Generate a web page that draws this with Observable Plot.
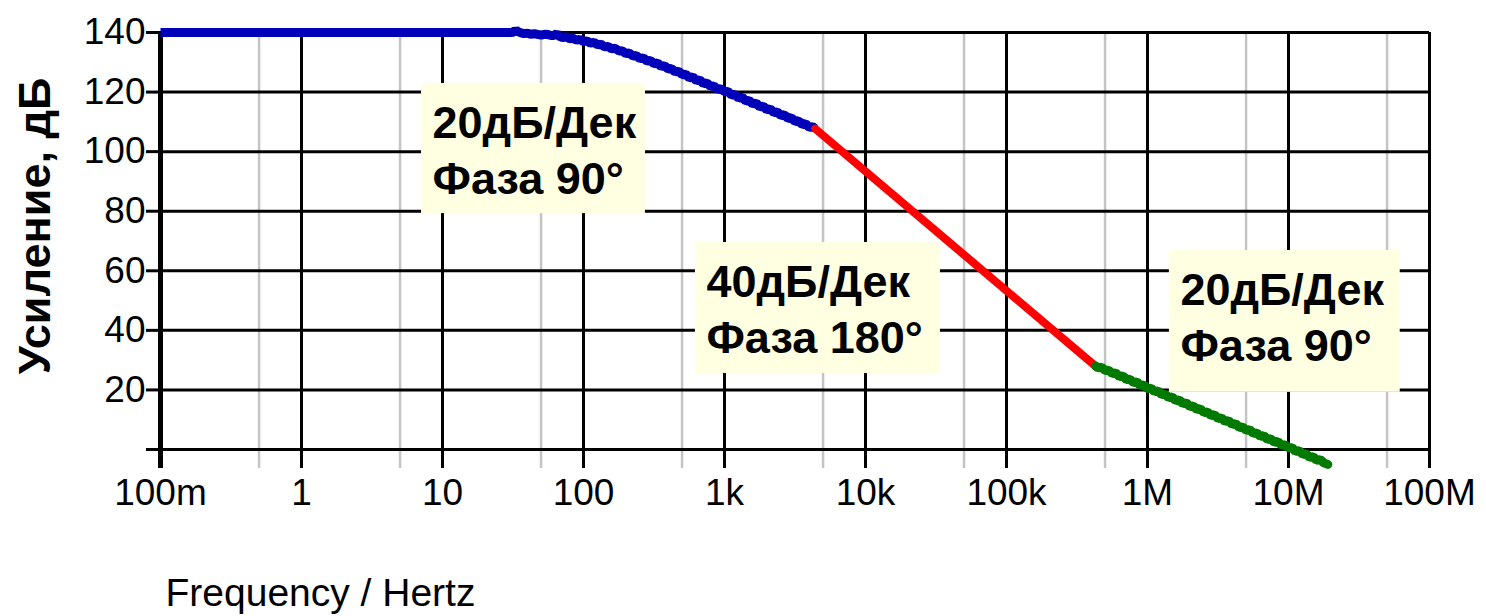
<!DOCTYPE html>
<html>
<head>
<meta charset="utf-8">
<script src="https://cdn.jsdelivr.net/npm/d3@7"></script>
<script src="https://cdn.jsdelivr.net/npm/@observablehq/plot@0.6"></script>
<style>
  html, body { margin: 0; padding: 0; background: #fff; }
  #chart svg { display: block; }
</style>
</head>
<body>
<div id="chart"></div>
<script>
// ---- data ----
const blueFreq = [0.1, 1, 10, 30, 32, 33, 34, 36, 38, 40, 42, 45, 47, 50, 53, 56, 60, 63, 65, 67, 71, 75, 80, 84, 89, 94, 100, 106, 112, 119, 126, 133, 141, 150, 158, 168, 178, 188, 200, 211, 224, 237, 251, 266, 282, 299, 316, 335, 355, 376, 398, 422, 447, 473, 501, 531, 562, 596, 631, 668, 708, 750, 794, 841, 891, 944, 1000, 1059, 1122, 1189, 1259, 1334, 1413, 1496, 1585, 1679, 1778, 1884, 1995, 2113, 2239, 2371, 2512, 2661, 2818, 2985, 3162, 3350, 3548, 3758, 3981, 4217, 4400];
const blueGain = [140, 140, 140, 140, 140.1, 141.0, 140.3, 139.9, 139.6, 139.8, 139.4, 139.6, 139.4, 139.1, 139.4, 139.3, 138.9, 139.2, 139.8, 138.8, 138.3, 138.6, 137.9, 138.1, 137.4, 137.7, 137.0, 137.2, 136.4, 136.7, 135.8, 136.1, 135.2, 135.3, 134.5, 134.7, 133.8, 133.9, 132.9, 133.1, 132.1, 132.3, 131.2, 131.5, 130.4, 130.6, 129.5, 129.8, 128.6, 128.9, 127.7, 127.9, 126.7, 127.1, 125.8, 126.0, 124.8, 125.1, 123.8, 124.1, 122.8, 123.1, 121.9, 122.1, 120.9, 121.2, 120.1, 120.2, 119.0, 119.2, 117.9, 118.3, 117.0, 117.2, 116.0, 116.3, 115.0, 115.3, 114.0, 114.4, 113.1, 113.3, 112.1, 112.4, 111.1, 111.4, 110.1, 110.4, 109.1, 109.4, 108.2, 108.4, 107.7];

const redFreq = [4400, 430000];
const redGain = [107.7, 27.9];

const greenFreq = [430000, 447000, 473000, 501000, 531000, 562000, 596000, 631000, 668000, 708000, 750000, 794000, 841000, 891000, 944000, 1e6, 1.06e6, 1.12e6, 1.19e6, 1.26e6, 1.33e6, 1.41e6, 1.5e6, 1.58e6, 1.68e6, 1.78e6, 1.88e6, 2e6, 2.11e6, 2.24e6, 2.37e6, 2.51e6, 2.66e6, 2.82e6, 2.99e6, 3.16e6, 3.35e6, 3.55e6, 3.76e6, 3.98e6, 4.22e6, 4.47e6, 4.73e6, 5.01e6, 5.31e6, 5.62e6, 5.96e6, 6.31e6, 6.68e6, 7.08e6, 7.5e6, 7.94e6, 8.41e6, 8.91e6, 9.44e6, 1e7, 1.06e7, 1.12e7, 1.19e7, 1.26e7, 1.33e7, 1.41e7, 1.5e7, 1.58e7, 1.68e7, 1.78e7, 1.9e7];
const greenGain = [28.0, 27.4, 27.6, 26.5, 26.6, 25.5, 25.7, 24.5, 24.7, 23.5, 23.6, 22.5, 22.7, 21.4, 21.7, 20.4, 20.6, 19.4, 19.7, 18.4, 18.6, 17.4, 17.7, 16.4, 16.7, 15.4, 15.7, 14.4, 14.6, 13.4, 13.7, 12.4, 12.6, 11.4, 11.7, 10.4, 10.6, 9.4, 9.7, 8.4, 8.7, 7.4, 7.6, 6.4, 6.7, 5.4, 5.6, 4.4, 4.7, 3.4, 3.6, 2.4, 2.7, 1.4, 1.6, 0.5, 0.6, -0.6, -0.4, -1.6, -1.4, -2.6, -2.4, -3.6, -3.4, -4.5, -5.0];

const xTicks = [0.1, 1, 10, 100, 1e3, 1e4, 1e5, 1e6, 1e7, 1e8];
const xTickLabels = ["100m", "1", "10", "100", "1k", "10k", "100k", "1M", "10M", "100M"];
const xMinor = [0.5, 5, 50, 500, 5e3, 5e4, 5e5, 5e6, 5e7];
const yTicks = [0, 20, 40, 60, 80, 100, 120, 140];
const yTickLabels = ["", "20", "40", "60", "80", "100", "120", "140"];

const annoText = ["20дБ/Дек\nФаза 90°", "40дБ/Дек\nФаза 180°", "20дБ/Дек\nФаза 90°"];
const annoF1 = [7.1, 622, 1.43e6];
const annoF2 = [275, 34000, 6.2e7];
const annoTop = [122.9, 69.5, 66.8];
const annoBottom = [79.2, 25.5, 19.2];

const xLabel = "Frequency / Hertz";
const yLabel = "Усиление, дБ";

// ---- build tables ----
const zip = (fs, gs) => fs.map((f, i) => ({f, g: gs[i]}));
const blue = zip(blueFreq, blueGain);
const red = zip(redFreq, redGain);
const green = zip(greenFreq, greenGain);
const annos = annoText.map((t, i) => ({t, x1: annoF1[i], x2: annoF2[i], y1: annoTop[i], y2: annoBottom[i]}));
const xLab = new Map(xTicks.map((v, i) => [v, xTickLabels[i]]));
const yLab = new Map(yTicks.map((v, i) => [v, yTickLabels[i]]));

const chart = Plot.plot({
  width: 1486,
  height: 616,
  marginLeft: 160,
  marginRight: 57,
  marginTop: 32,
  marginBottom: 167,
  style: {fontFamily: "'Liberation Sans', Arial, sans-serif", background: "#fff", color: "#000", overflow: "visible"},
  x: {type: "log", domain: [0.1, 1e8]},
  y: {domain: [0, 140]},
  marks: [
    // minor (gray) grid + ticks
    Plot.gridX(xMinor, {stroke: "#c4c4c4", strokeOpacity: 1, strokeWidth: 2.5}),
    Plot.axisX(xMinor, {tickSize: 19, stroke: "#c4c4c4", strokeWidth: 2.5, tickFormat: () => "", label: null}),
    // major grid
    Plot.gridX(xTicks, {stroke: "#000", strokeOpacity: 1, strokeWidth: 3}),
    Plot.gridY(yTicks, {stroke: "#000", strokeOpacity: 1, strokeWidth: 3}),
    Plot.ruleX([0.1], {stroke: "#000", strokeWidth: 5}),
    Plot.axisX(xTicks, {tickSize: 19, tickPadding: 10, strokeWidth: 3, fontSize: 37, tickFormat: d => xLab.get(d), label: null}),
    Plot.axisX([0.1], {tickSize: 19, strokeWidth: 5, tickFormat: () => "", label: null}),
    Plot.axisY(yTicks, {tickSize: 14, tickPadding: 1, strokeWidth: 3, fontSize: 37, tickFormat: d => yLab.get(d), label: null}),
    // annotation boxes
    Plot.rect(annos, {x1: "x1", x2: "x2", y1: "y1", y2: "y2", fill: "#ffffe2"}),
    Plot.text(annos, {x: "x1", y: "y1", text: "t", dx: 11, dy: 15, textAnchor: "start", lineAnchor: "top", lineHeight: 1.24, fontSize: 45, fontWeight: "bold", fill: "#000"}),
    // curves
    Plot.line(blue, {x: "f", y: "g", stroke: "#0000bb", strokeWidth: 9, strokeLinejoin: "miter", strokeLinecap: "butt"}),
    Plot.line(red, {x: "f", y: "g", stroke: "#ff0000", strokeWidth: 8}),
    Plot.line(green, {x: "f", y: "g", stroke: "#007a00", strokeWidth: 9, strokeLinejoin: "miter", strokeLinecap: "round"}),
    // axis titles
    Plot.text([xLabel], {frameAnchor: "bottom-left", text: d => d, dx: 5, dy: 129, textAnchor: "start", lineAnchor: "top", fontSize: 39, fill: "#000"}),
    Plot.text([yLabel], {frameAnchor: "left", text: d => d, rotate: -90, dx: -125, dy: -15, textAnchor: "middle", lineAnchor: "middle", fontSize: 45, fontWeight: "bold", fill: "#000"})
  ]
});
document.getElementById("chart").appendChild(chart);
</script>
</body>
</html>
